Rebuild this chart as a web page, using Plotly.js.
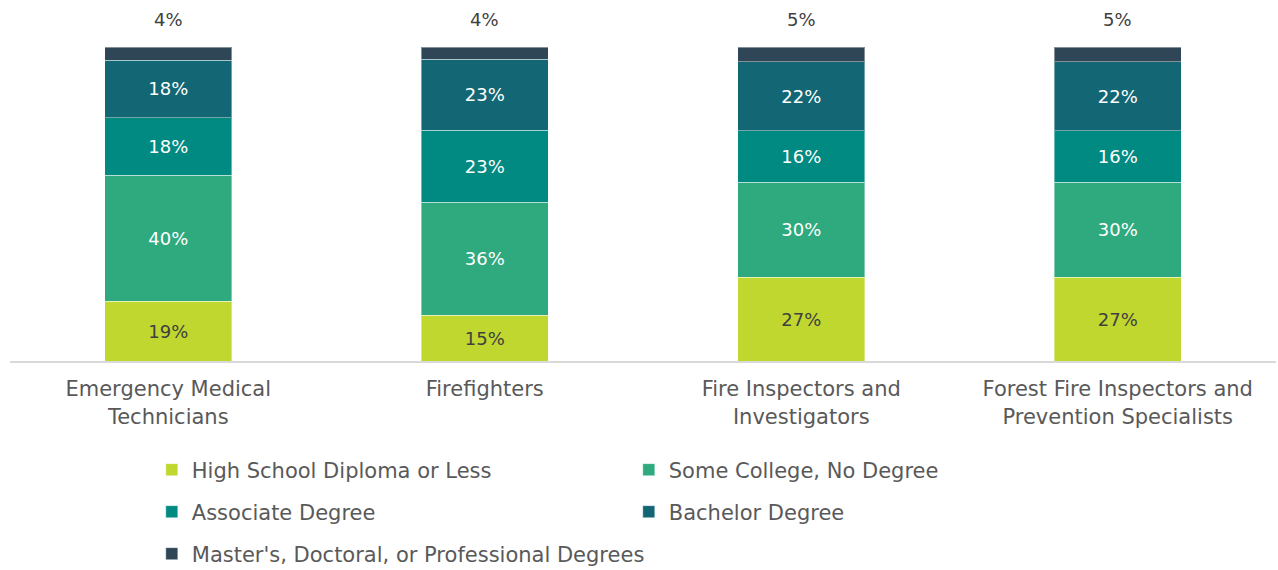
<!DOCTYPE html>
<html>
<head>
<meta charset="utf-8">
<script src="https://cdn.plot.ly/plotly-3.0.1.min.js"></script>
<style>
html,body{margin:0;padding:0;background:#fff;}
#chart{width:1278px;height:570px;}
</style>
</head>
<body>
<div id="chart"></div>
<script>
// Data (percent of workers by educational attainment)
const categories = [
  "Emergency Medical<br>Technicians",
  "Firefighters",
  "Fire Inspectors and<br>Investigators",
  "Forest Fire Inspectors and<br>Prevention Specialists"
];
const seriesNames = [
  "High School Diploma or Less",
  "Some College, No Degree",
  "Associate Degree",
  "Bachelor Degree",
  "Master's, Doctoral, or Professional Degrees"
];
const highSchool   = [19.1, 14.6, 26.6, 26.6];
const someCollege  = [40.0, 35.9, 30.3, 30.3];
const associate    = [18.4, 23.0, 16.4, 16.4];
const bachelor     = [18.3, 22.6, 22.0, 22.0];
const graduate     = [4.2, 3.9, 4.7, 4.7];

const seriesValues = [highSchool, someCollege, associate, bachelor, graduate];
const colors = ["#c0d72f", "#2eaa7e", "#008a82", "#136674", "#2e4656"];
const textColors = ["#404040", "#ffffff", "#ffffff", "#ffffff", "#ffffff"];
const legendIds = ["legend", "legend", "legend2", "legend2", "legend3"];

const FONT = "'DejaVu Sans', 'Open Sans', sans-serif";

const traces = seriesValues.map((vals, i) => ({
  type: "bar",
  name: seriesNames[i],
  x: categories,
  y: vals,
  legend: legendIds[i],
  marker: {color: colors[i], line: {color: "rgba(255,255,255,0.4)", width: 1}},
  texttemplate: i === 4 ? "" : "%{y:.0f}%",
  textposition: i === 4 ? "none" : "inside",
  insidetextanchor: "middle",
  textfont: {family: FONT, size: 18, color: textColors[i]},
  hoverinfo: "x+y+name"
}));

const totals = categories.map((c, j) => seriesValues.reduce((s, arr) => s + arr[j], 0));
const annotations = categories.map((c, j) => ({
  x: c, y: Math.min(totals[j], 100), xref: "x", yref: "y",
  text: Math.round(graduate[j]) + "%",
  showarrow: false, yanchor: "bottom", yshift: 15,
  font: {family: FONT, size: 18, color: "#404040"}
}));

const legendBase = {
  orientation: "h", xanchor: "left", yanchor: "middle",
  x: 0.112, entrywidth: 432, entrywidthmode: "pixels",
  font: {family: FONT, size: 21, color: "#595959"},
  bgcolor: "rgba(0,0,0,0)", traceorder: "normal",
  itemclick: false, itemdoubleclick: false
};

const layout = {
  width: 1278, height: 570,
  margin: {l: 10, r: 2, t: 47, b: 209, autoexpand: false},
  paper_bgcolor: "#ffffff", plot_bgcolor: "#ffffff",
  barmode: "stack", bargap: 0.6,
  font: {family: FONT, color: "#595959"},
  xaxis: {
    type: "category",
    showline: true, linecolor: "#d9d9d9", linewidth: 2,
    showgrid: false, zeroline: false, ticks: "",
    ticklabelstandoff: 8,
    tickfont: {family: FONT, size: 21, color: "#595959"}
  },
  yaxis: {
    range: [0, 100], visible: false, showgrid: false, zeroline: false, fixedrange: true
  },
  annotations: annotations,
  showlegend: true,
  legend:  Object.assign({}, legendBase, {y: (361 - 470) / 314}),
  legend2: Object.assign({}, legendBase, {y: (361 - 512) / 314}),
  legend3: Object.assign({}, legendBase, {y: (361 - 554) / 314, entrywidth: 0})
};

Plotly.newPlot("chart", traces, layout, {displayModeBar: false, staticPlot: true});
</script>
</body>
</html>
